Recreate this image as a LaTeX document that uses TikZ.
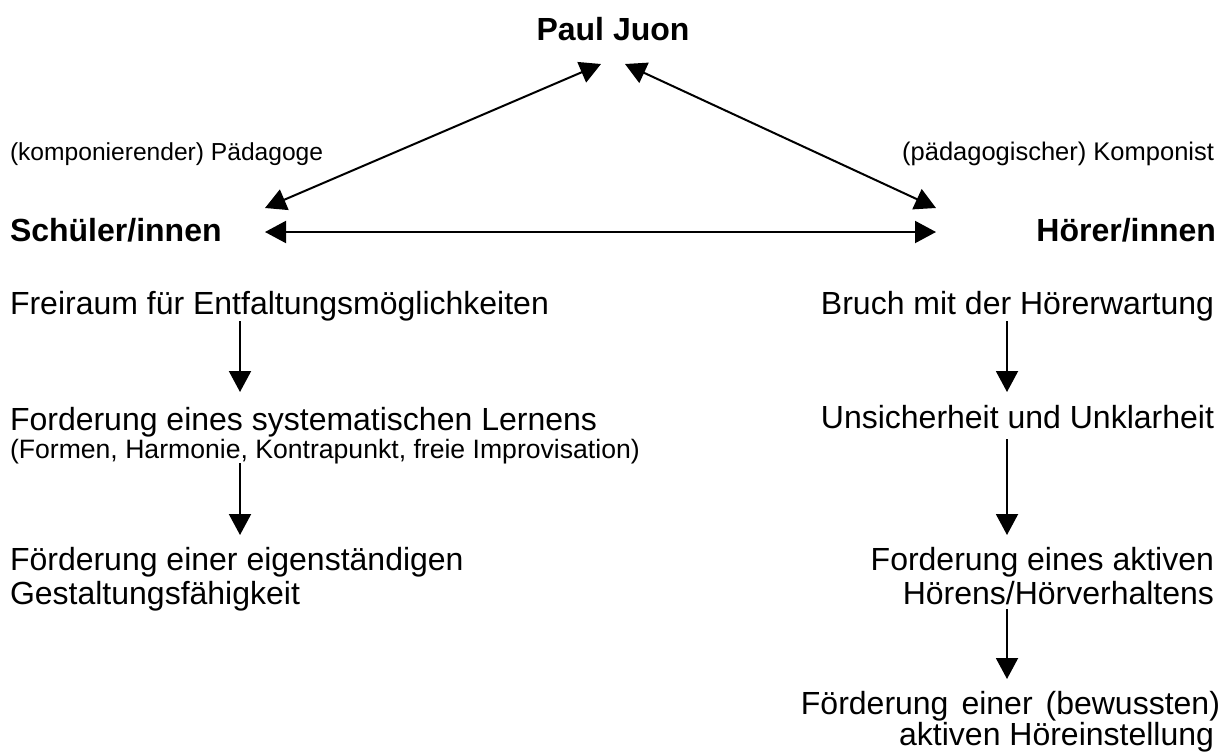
\documentclass[tikz,border=0pt]{standalone}
\usepackage{fontspec}
\setmainfont{Liberation Sans}
\usetikzlibrary{arrows.meta}
\begin{document}
\begin{tikzpicture}[x=1pt,y=-1pt,
  every node/.style={inner sep=0pt,outer sep=0pt},
  bigbold/.style={font=\fontsize{32}{36}\selectfont\bfseries},
  maintxt/.style={font=\fontsize{32}{36}\selectfont},
  smalltxt/.style={font=\fontsize{25.5}{30}\selectfont},
  notetxt/.style={font=\fontsize{26.6}{30}\selectfont},
  lft/.style={anchor=base west},
  rgt/.style={anchor=base east},
  arr/.style={line width=2pt,-{Triangle[length=21pt,width=22pt]}},
  darr/.style={line width=2pt,{Triangle[length=21pt,width=22pt]}-{Triangle[length=21pt,width=22pt]}}]
\useasboundingbox[fill=white] (0,0) rectangle (1231,753);

% top
\node[bigbold,anchor=base] (pj) at (613,40) {Paul Juon};
\node[lft,font=\fontsize{24.6}{30}\selectfont] (kp) at (10,160) {(komponierender) Pädagoge};
\node[smalltxt,rgt] (pk) at (1214,160) {(pädagogischer) Komponist};
\node[bigbold,lft] (sch) at (10,241) {Schüler/innen};
\node[bigbold,rgt] (hoe) at (1216,241) {Hörer/innen};

% left column
\node[maintxt,lft] (l1) at (10,314) {Freiraum für Entfaltungsmöglichkeiten};
\node[maintxt,lft] (l2) at (10,430) {Forderung eines systematischen Lernens};
\node[notetxt,lft] (l2b) at (10,458) {(Formen, Harmonie, Kontrapunkt, freie Improvisation)};
\node[maintxt,lft] (l3) at (10,570) {Förderung einer eigenständigen};
\node[maintxt,lft] (l3b) at (10,604) {Gestaltungsfähigkeit};

% right column
\node[maintxt,rgt] (r1) at (1214,314) {Bruch mit der Hörerwartung};
\node[maintxt,rgt] (r2) at (1214,428) {Unsicherheit und Unklarheit};
\node[maintxt,rgt] (r3) at (1214,570) {Forderung eines aktiven};
\node[maintxt,rgt] (r3b) at (1214,604) {Hörens/Hörverhaltens};
\node[maintxt,rgt] (r4) at (1220,714) {Förderung\hspace{13pt}einer\hspace{13pt}(bewussten)};
\node[maintxt,rgt] (r4b) at (1214,745) {aktiven Höreinstellung};

% connector end points
\coordinate (pjl) at (601,64);
\coordinate (pjr) at (625,64);
\coordinate (schu) at (265,208);
\coordinate (schr) at (265,232);
\coordinate (hoeu) at (936,208);
\coordinate (hoel) at (936,232);

\draw[darr] (pjl) -- (schu);
\draw[darr] (pjr) -- (hoeu);
\draw[darr] (schr) -- (hoel);

% vertical arrows
\coordinate (a1s) at (240,321); \coordinate (a1e) at (240,392);
\coordinate (a2s) at (240,463); \coordinate (a2e) at (240,535);
\coordinate (b1s) at (1007,321); \coordinate (b1e) at (1007,392);
\coordinate (b2s) at (1007,439); \coordinate (b2e) at (1007,535);
\coordinate (b3s) at (1007,609); \coordinate (b3e) at (1007,679);

\draw[arr] (a1s) -- (a1e);
\draw[arr] (a2s) -- (a2e);
\draw[arr] (b1s) -- (b1e);
\draw[arr] (b2s) -- (b2e);
\draw[arr] (b3s) -- (b3e);
\end{tikzpicture}
\end{document}
